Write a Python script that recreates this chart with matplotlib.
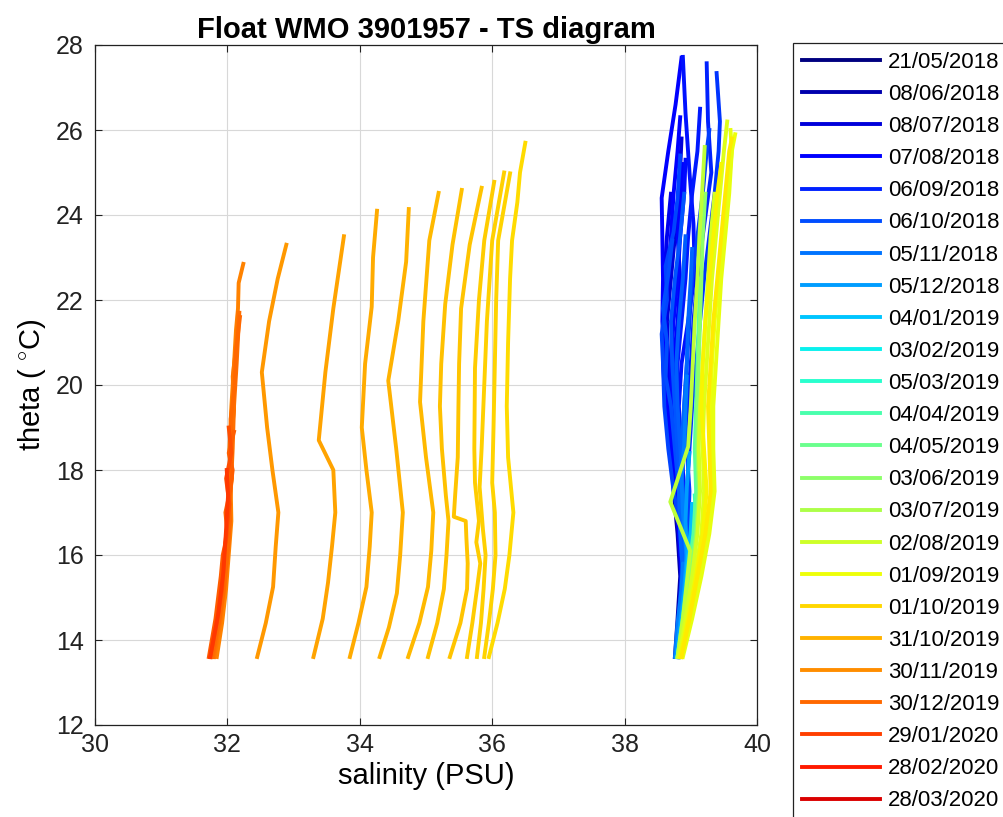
import matplotlib
matplotlib.use('Agg')
import matplotlib.pyplot as plt
from matplotlib.lines import Line2D

# ---------------- data ----------------
dates = ['21/05/2018', '08/06/2018', '08/07/2018', '07/08/2018', '06/09/2018',
         '06/10/2018', '05/11/2018', '05/12/2018', '04/01/2019', '03/02/2019',
         '05/03/2019', '04/04/2019', '04/05/2019', '03/06/2019', '03/07/2019',
         '02/08/2019', '01/09/2019', '01/10/2019', '31/10/2019', '30/11/2019',
         '30/12/2019', '29/01/2020', '28/02/2020', '28/03/2020', '27/04/2020']

# colour position of each profile along the date list (cycle index)
profile_cycle = [1.0, 2.0, 2.4, 2.8, 3.0, 3.2, 3.4, 3.6, 3.8, 4.0, 4.4, 4.6, 4.8, 5.0, 5.2, 5.4, 5.6,
                 6.2, 7.0, 7.8, 9.0, 10.0, 11.5, 13.0, 14.5,
                 15.2, 15.5, 16.0, 16.3, 15.8, 16.6,
                 16.9, 17.1, 17.2, 17.35, 17.5, 17.65, 17.8, 18.0, 18.2, 18.4, 18.7,
                 19.3, 19.6, 19.8, 20.0, 20.3, 20.7, 21.2]

profile_theta = [
    [13.6, 14.5, 15.5, 16.5, 17.5, 18.5, 19.5, 20.5, 21.6],
    [13.6, 14.5, 15.5, 16.5, 17.5, 18.5, 19.5, 20.5, 21.5, 22.5, 23.5, 24.4, 25.8],
    [13.6, 14.5, 15.5, 16.5, 17.5, 18.5, 19.5, 20.5, 21.5, 22.5, 23.5, 24.5],
    [13.6, 14.5, 15.5, 16.5, 17.5, 18.5, 19.5, 20.5, 21.5, 22.5, 23.5, 24.5, 25.2],
    [13.6, 14.5, 15.5, 16.5, 17.5, 18.5, 19.5, 20.5, 21.5, 22.5, 23.5, 24.5, 25.5, 26.3],
    [13.6, 14.5, 15.5, 16.5, 17.5, 18.5, 19.5, 20.5, 21.5, 22.5, 23.5, 24.4, 25.5, 26.6, 27.7],
    [13.6, 14.5, 15.5, 16.5, 17.5, 18.5, 19.5, 20.5, 21.5, 22.5, 23.5, 24.5, 25.3],
    [13.6, 14.5, 15.5, 16.5, 17.5, 18.5, 19.5, 20.5, 21.5, 22.6, 23.8, 25.0, 26.4, 27.72],
    [13.6, 14.5, 15.5, 16.5, 17.5, 18.5, 19.5, 20.5, 21.5, 22.5, 23.5, 24.5, 25.5, 26.5],
    [13.6, 14.5, 15.5, 16.5, 17.5, 18.5, 19.5, 20.5, 21.5, 22.5, 23.5, 24.2, 25.0, 26.2, 27.57],
    [13.6, 14.5, 15.5, 16.5, 17.5, 18.5, 19.5, 20.5, 21.5, 22.5, 23.5, 24.5, 25.5, 26.2, 27.34],
    [13.6, 14.5, 15.5, 16.5, 17.5, 18.5, 19.5, 20.5, 21.5, 22.5, 23.5, 24.5, 25.5, 26.0],
    [13.6, 14.5, 15.5, 16.5, 17.5, 18.5, 19.5, 20.5, 21.2, 22.0, 22.8, 23.6, 24.4, 25.4],
    [13.6, 14.5, 15.5, 16.5, 17.5, 18.5, 19.5, 20.2, 21.0, 21.8, 22.6, 23.4],
    [13.6, 14.5, 15.5, 16.5, 17.5, 18.5, 19.5, 20.5, 21.5, 22.5, 23.5, 24.5],
    [13.6, 14.5, 15.5, 16.5, 17.5, 18.5, 19.5, 20.5, 21.5, 22.5, 23.5],
    [13.6, 14.5, 15.5, 16.0, 16.5, 17.5, 18.5, 19.5, 20.5, 21.5, 22.5, 23.2],
    [13.6, 14.4, 15.2, 15.8, 15.75, 16.2, 17.0, 17.8, 18.6, 19.4, 20.2],
    [13.6, 14.4, 15.2, 16.0, 16.8, 17.6, 18.4],
    [13.6, 14.4, 15.2, 16.0, 16.6, 17.2],
    [13.6, 14.4, 15.2, 16.0, 16.4],
    [13.6, 14.4, 15.2, 16.0, 16.8, 17.4],
    [13.6, 14.5, 15.5, 16.5, 17.5, 18.5, 19.5, 20.5, 21.5, 22.5],
    [13.6, 14.5, 15.5, 16.5, 17.5, 18.5, 19.5, 20.5, 21.5, 22.5, 23.5, 24.5],
    [13.6, 14.5, 15.5, 16.1, 17.25, 18.55, 19.5, 20.5, 21.5, 22.5, 23.5, 24.5, 25.6],
    [13.6, 14.5, 15.5, 16.5, 17.5, 18.5, 19.5, 20.5, 21.5, 22.5, 23.5, 24.5],
    [13.6, 14.5, 15.5, 16.5, 17.5, 18.5, 19.5, 20.5, 21.5, 22.5, 23.5, 24.5, 25.5, 26.2],
    [13.6, 14.5, 15.5, 16.5, 17.5, 18.5, 19.5, 20.5, 21.5, 22.5, 23.5, 24.5, 25.5, 25.9],
    [13.6, 14.5, 15.5, 16.5, 17.5, 18.5, 19.5, 20.5, 21.5, 22.5, 23.5, 24.5, 25.2],
    [13.6, 14.5, 15.5, 16.5, 17.5, 18.5, 19.5, 20.5, 21.5, 22.5, 23.5, 24.5, 25.5, 26.0],
    [13.6, 14.5, 15.5, 16.5, 17.5, 18.5, 19.5, 20.5, 21.5, 22.5, 23.5, 24.5, 25.5, 25.8],
    # drifting profiles
    [13.6, 14.4, 15.2, 16.0, 17.0, 18.3, 19.5, 21.0, 22.5, 23.4, 24.3, 25.0, 25.7],
    [13.6, 14.4, 15.2, 16.0, 17.0, 17.7, 19.0, 20.5, 22.0, 23.4, 24.98],
    [13.6, 14.4, 15.2, 16.0, 16.6, 17.6, 18.5, 20.0, 21.5, 23.4, 25.0],
    [13.6, 14.4, 15.2, 15.8, 16.3, 16.8, 17.7, 18.5, 20.4, 22.0, 23.4, 24.78],
    [13.6, 14.4, 15.2, 15.8, 16.4, 16.8, 16.9, 17.4, 18.3, 19.5, 20.5, 21.8, 23.3, 24.64],
    [13.6, 14.4, 15.2, 16.0, 16.8, 17.4, 18.5, 19.5, 20.5, 21.9, 23.3, 24.59],
    [13.6, 14.4, 15.25, 16.1, 17.0, 18.3, 19.6, 21.5, 23.4, 24.52],
    [13.6, 14.3, 15.1, 16.0, 17.0, 18.5, 20.1, 21.5, 22.9, 24.14],
    [13.6, 14.4, 15.25, 16.2, 17.0, 18.0, 19.0, 20.5, 21.84, 23.0, 24.1],
    [13.6, 14.5, 15.35, 16.2, 17.0, 18.0, 18.7, 20.3, 21.8, 23.5],
    [13.6, 14.4, 15.25, 16.2, 17.0, 18.0, 19.0, 20.3, 21.5, 22.5, 23.3],
    [13.6, 14.4, 15.2, 16.0, 16.8, 17.6, 18.5, 19.5, 20.5, 21.3, 21.8, 22.4, 22.85],
    [13.6, 14.5, 15.5, 16.3, 17.0, 17.8, 18.6, 19.4, 20.2, 21.0, 21.7],
    [13.6, 14.5, 15.5, 16.5, 17.5, 18.5, 19.5, 20.5, 21.7],
    [13.6, 14.4, 15.2, 16.0, 16.8, 17.6, 18.4, 19.2, 20.0, 20.8, 21.6],
    [13.6, 14.5, 15.5, 16.0, 16.5, 17.0, 17.5, 18.0, 18.4, 18.9],
    [13.6, 14.4, 15.2, 16.0, 16.6, 17.2, 17.8, 18.4, 19.0],
    [13.6, 14.6, 15.6, 16.6, 17.4, 18.0],
]

profile_sal = [
    [38.76, 38.80, 38.84, 38.80, 38.74, 38.70, 38.66, 38.62, 38.60],
    [38.78, 38.82, 38.86, 38.84, 38.78, 38.74, 38.72, 38.66, 38.64, 38.70, 38.76, 38.82, 38.86],
    [38.79, 38.83, 38.87, 38.83, 38.78, 38.72, 38.68, 38.66, 38.62, 38.60, 38.64, 38.70],
    [38.80, 38.84, 38.88, 38.90, 38.86, 38.82, 38.78, 38.74, 38.80, 38.84, 38.80, 38.86, 38.88],
    [38.78, 38.84, 38.88, 38.84, 38.76, 38.68, 38.62, 38.58, 38.60, 38.66, 38.70, 38.74, 38.80, 38.84],
    [38.80, 38.84, 38.86, 38.82, 38.76, 38.72, 38.66, 38.60, 38.57, 38.58, 38.57, 38.56, 38.66, 38.77, 38.86],
    [38.80, 38.86, 38.92, 38.90, 38.84, 38.78, 38.72, 38.70, 38.74, 38.80, 38.84, 38.90, 38.92],
    [38.82, 38.87, 38.92, 38.94, 38.90, 38.86, 38.82, 38.86, 38.96, 39.06, 39.04, 38.98, 38.92, 38.88],
    [38.81, 38.85, 38.90, 38.92, 38.88, 38.82, 38.78, 38.80, 38.86, 38.92, 38.96, 39.02, 39.10, 39.14],
    [38.80, 38.84, 38.88, 38.86, 38.84, 38.90, 38.95, 39.00, 39.04, 39.10, 39.18, 39.24, 39.31, 39.26, 39.24],
    [38.78, 38.82, 38.86, 38.90, 38.94, 38.98, 39.02, 39.08, 39.14, 39.20, 39.28, 39.36, 39.42, 39.44, 39.39],
    [38.82, 38.86, 38.92, 38.96, 38.98, 38.94, 38.90, 38.94, 38.98, 39.02, 39.10, 39.18, 39.24, 39.28],
    [38.80, 38.84, 38.90, 38.86, 38.74, 38.66, 38.60, 38.58, 38.56, 38.64, 38.62, 38.74, 38.80, 38.84],
    [38.80, 38.84, 38.88, 38.86, 38.82, 38.76, 38.70, 38.62, 38.64, 38.58, 38.66, 38.72],
    [38.82, 38.86, 38.90, 38.88, 38.84, 38.80, 38.76, 38.72, 38.70, 38.76, 38.84, 38.90],
    [38.80, 38.85, 38.90, 38.92, 38.88, 38.84, 38.80, 38.78, 38.82, 38.88, 38.92],
    [38.80, 38.84, 38.90, 38.86, 38.84, 38.82, 38.86, 38.90, 38.94, 38.96, 39.00, 39.02],
    [38.76, 38.80, 38.86, 38.88, 38.94, 38.92, 38.88, 38.86, 38.90, 38.92, 38.94],
    [38.78, 38.84, 38.90, 38.94, 38.92, 38.94, 38.98],
    [38.80, 38.86, 38.92, 38.96, 39.00, 39.02],
    [38.80, 38.88, 38.96, 39.02, 39.04],
    [38.82, 38.90, 38.98, 39.04, 39.08, 39.06],
    [38.80, 38.88, 38.96, 39.04, 39.08, 39.06, 39.08, 39.10, 39.12, 39.14],
    [38.80, 38.90, 39.00, 39.08, 39.12, 39.10, 39.10, 39.12, 39.14, 39.16, 39.18, 39.22],
    [38.80, 38.88, 38.95, 38.99, 38.69, 38.96, 39.00, 39.03, 39.06, 39.10, 39.13, 39.17, 39.21],
    [38.82, 38.92, 39.02, 39.10, 39.14, 39.12, 39.14, 39.18, 39.22, 39.26, 39.30, 39.36],
    [38.82, 38.94, 39.06, 39.16, 39.20, 39.18, 39.20, 39.24, 39.28, 39.32, 39.38, 39.44, 39.50, 39.55],
    [38.86, 39.00, 39.14, 39.26, 39.32, 39.30, 39.30, 39.32, 39.36, 39.42, 39.50, 39.56, 39.62, 39.67],
    [38.84, 38.96, 39.08, 39.18, 39.24, 39.20, 39.16, 39.18, 39.22, 39.28, 39.34, 39.40, 39.46],
    [38.88, 39.02, 39.16, 39.28, 39.36, 39.34, 39.34, 39.38, 39.42, 39.46, 39.52, 39.58, 39.62, 39.60],
    [38.86, 38.98, 39.10, 39.22, 39.30, 39.28, 39.26, 39.30, 39.34, 39.40, 39.46, 39.52, 39.58, 39.62],
    # drifting profiles
    [35.95, 36.08, 36.19, 36.26, 36.32, 36.24, 36.22, 36.24, 36.27, 36.30, 36.38, 36.42, 36.50],
    [35.88, 35.95, 36.01, 36.05, 36.04, 36.00, 36.02, 36.04, 36.06, 36.09, 36.27],
    [35.77, 35.83, 35.87, 35.90, 35.86, 35.81, 35.84, 35.88, 35.92, 36.00, 36.18],
    [35.62, 35.70, 35.77, 35.82, 35.76, 35.80, 35.74, 35.73, 35.74, 35.80, 35.88, 36.03],
    [35.36, 35.52, 35.62, 35.63, 35.61, 35.60, 35.42, 35.44, 35.48, 35.49, 35.50, 35.53, 35.66, 35.84],
    [35.03, 35.17, 35.27, 35.31, 35.34, 35.30, 35.24, 35.21, 35.23, 35.29, 35.40, 35.54],
    [34.73, 34.90, 35.03, 35.08, 35.11, 35.00, 34.91, 34.96, 35.05, 35.19],
    [34.30, 34.44, 34.56, 34.61, 34.65, 34.55, 34.43, 34.58, 34.70, 34.74],
    [33.85, 33.98, 34.10, 34.15, 34.18, 34.10, 34.03, 34.08, 34.18, 34.20, 34.26],
    [33.30, 33.44, 33.52, 33.58, 33.63, 33.60, 33.38, 33.48, 33.60, 33.76],
    [32.45, 32.58, 32.69, 32.73, 32.77, 32.68, 32.60, 32.52, 32.63, 32.76, 32.89],
    [31.84, 31.92, 31.98, 32.02, 32.06, 32.05, 32.03, 32.06, 32.10, 32.13, 32.16, 32.17, 32.24],
    [31.80, 31.90, 31.97, 32.02, 32.00, 32.07, 32.04, 32.10, 32.08, 32.14, 32.16],
    [31.78, 31.88, 31.95, 32.00, 32.05, 32.08, 32.10, 32.14, 32.18],
    [31.76, 31.87, 31.95, 32.00, 32.04, 32.02, 32.07, 32.05, 32.11, 32.13, 32.19],
    [31.72, 31.82, 31.90, 31.93, 32.00, 31.97, 32.04, 32.08, 32.02, 32.10],
    [31.74, 31.84, 31.92, 31.95, 31.99, 32.03, 31.98, 32.06, 32.02],
    [31.74, 31.86, 31.94, 31.98, 32.01, 31.99],
]

x_ticks = [30, 32, 34, 36, 38, 40]
y_ticks = [12, 14, 16, 18, 20, 22, 24, 26, 28]

# ---------------- figure ----------------
plt.rcParams['font.family'] = ['Liberation Sans', 'DejaVu Sans']
plt.rcParams['mathtext.fontset'] = 'custom'
plt.rcParams['mathtext.rm'] = 'Liberation Sans'

fig = plt.figure(figsize=(10.04, 8.17), dpi=100)
ax = fig.add_axes([95 / 1004, 1 - 725 / 817, 662 / 1004, 680 / 817])

cmap = plt.get_cmap('jet')
n_steps = len(dates) + 1
for c, s, t in zip(profile_cycle, profile_sal, profile_theta):
    ax.plot(s, t, color=cmap(c / (n_steps - 1)), lw=2.8)

ax.set_xlim(x_ticks[0], x_ticks[-1])
ax.set_ylim(y_ticks[0], y_ticks[-1])
ax.set_xticks(x_ticks)
ax.set_yticks(y_ticks)
ax.grid(True, color='#d8d8d8', lw=0.8)
ax.set_axisbelow(True)
ax.tick_params(direction='in', top=True, right=True, length=5, width=0.8,
               labelsize=18, colors='#222222')
ax.tick_params(axis='y', pad=8)
ax.tick_params(axis='x', pad=6)
for sp in ax.spines.values():
    sp.set_linewidth(0.9)
    sp.set_color('#222222')

ax.set_title('Float WMO 3901957 - TS diagram', fontsize=21, fontweight='bold', pad=5)
ax.set_xlabel('salinity (PSU)', fontsize=21, labelpad=3)
ax.set_ylabel(r'theta ( $^{\circ}$C)', fontsize=21, labelpad=6)

handles = [Line2D([0], [0], color=cmap(i / (n_steps - 1)), lw=2.8)
           for i in range(len(dates))]
leg = fig.legend(handles, dates, loc='upper left',
                 bbox_to_anchor=(793 / 1004, 1 - 43 / 817),
                 fontsize=16, handlelength=3.5, handletextpad=0.36,
                 labelspacing=0.5, borderpad=0.4, fancybox=False,
                 edgecolor='#222222', framealpha=1, borderaxespad=0)
leg.get_frame().set_linewidth(0.9)

fig.savefig('out.png', dpi=100)
